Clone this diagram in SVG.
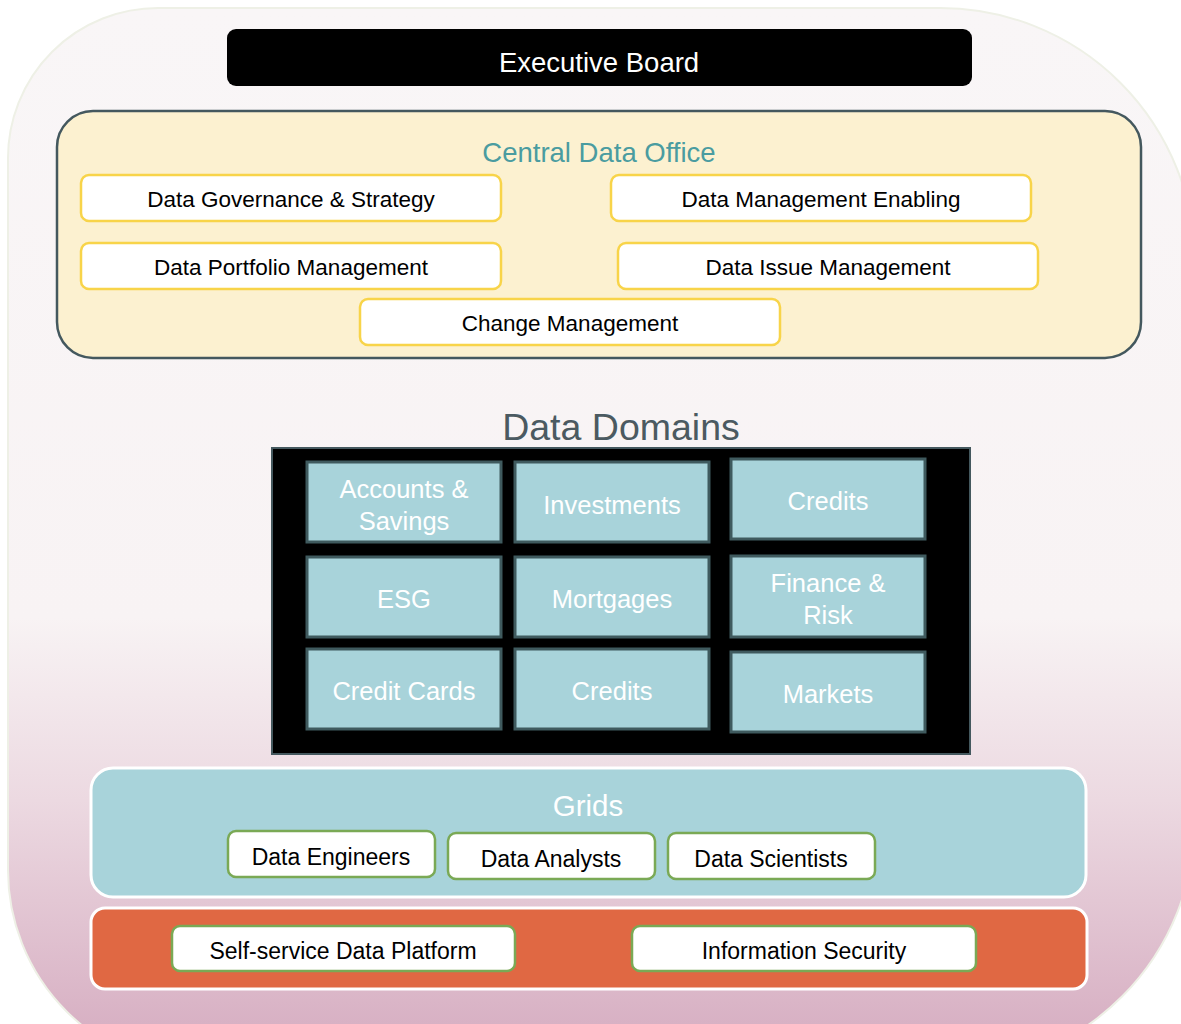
<svg xmlns="http://www.w3.org/2000/svg" width="1181" height="1024" viewBox="0 0 1181 1024">
  <defs>
    <linearGradient id="bgGrad" x1="0" y1="8" x2="0" y2="1024" gradientUnits="userSpaceOnUse">
      <stop offset="0" stop-color="#f9f6f7"/>
      <stop offset="0.6" stop-color="#f8f3f4"/>
      <stop offset="0.78" stop-color="#ecd9e1"/>
      <stop offset="1" stop-color="#d8b1c4"/>
    </linearGradient>
    <style>
      text { font-family: "Liberation Sans", Arial, sans-serif; text-anchor: middle; }
      .cdo-item rect { fill: #ffffff; stroke: #f8d449; stroke-width: 2.5; }
      .cdo-item text { font-size: 22.5px; fill: #000000; }
      .domain rect { fill: #a8d3da; stroke: #3f5a5e; stroke-width: 3; }
      .domain text { font-size: 25.5px; fill: #ffffff; }
      .role rect { fill: #ffffff; stroke: #7aa955; stroke-width: 2.5; }
      .role text { font-size: 23px; fill: #000000; }
    </style>
  </defs>

  <!-- page background -->
  <rect x="0" y="0" width="1181" height="1024" fill="#ffffff"/>
  <path d="M 158 8 L 940 8 A 255 255 0 0 1 1195 263 L 1195 820 A 250 250 0 0 1 945 1070 L 208 1070 A 200 200 0 0 1 8 870 L 8 158 A 150 150 0 0 1 158 8 Z"
        fill="url(#bgGrad)" stroke="#eef0e6" stroke-width="2"/>

  <!-- Executive Board -->
  <g id="executive-board">
    <rect x="227" y="29" width="745" height="57" rx="9" fill="#000000"/>
    <text x="599" y="72" font-size="27.5" fill="#ffffff">Executive Board</text>
  </g>

  <!-- Central Data Office -->
  <g id="central-data-office">
    <rect x="57" y="111" width="1084" height="247" rx="36" fill="#fcf1d0" stroke="#44585e" stroke-width="2.5"/>
    <text x="599" y="162" font-size="27.5" fill="#4a9ca0">Central Data Office</text>
  </g>
  <g id="data-governance" class="cdo-item">
    <rect x="81" y="175" width="420" height="46" rx="8"/>
    <text x="291" y="207">Data Governance &amp; Strategy</text>
  </g>
  <g id="data-management-enabling" class="cdo-item">
    <rect x="611" y="175" width="420" height="46" rx="8"/>
    <text x="821" y="207">Data Management Enabling</text>
  </g>
  <g id="data-portfolio" class="cdo-item">
    <rect x="81" y="243" width="420" height="46" rx="8"/>
    <text x="291" y="275">Data Portfolio Management</text>
  </g>
  <g id="data-issue" class="cdo-item">
    <rect x="618" y="243" width="420" height="46" rx="8"/>
    <text x="828" y="275">Data Issue Management</text>
  </g>
  <g id="change-management" class="cdo-item">
    <rect x="360" y="299" width="420" height="46" rx="8"/>
    <text x="570" y="331">Change Management</text>
  </g>

  <!-- Data Domains -->
  <g id="data-domains">
    <text x="621" y="440" font-size="37.5" fill="#4b5a61">Data Domains</text>
    <rect x="272" y="448" width="698" height="306" fill="#000000" stroke="#44585e" stroke-width="2"/>
  </g>
  <g id="accounts-savings" class="domain">
    <rect x="307" y="462" width="194" height="80"/>
    <text x="404" y="498">Accounts &amp;</text>
    <text x="404" y="530">Savings</text>
  </g>
  <g id="investments" class="domain">
    <rect x="515" y="462" width="194" height="80"/>
    <text x="612" y="514">Investments</text>
  </g>
  <g id="credits-1" class="domain">
    <rect x="731" y="459" width="194" height="80"/>
    <text x="828" y="510">Credits</text>
  </g>
  <g id="esg" class="domain">
    <rect x="307" y="557" width="194" height="80"/>
    <text x="404" y="608">ESG</text>
  </g>
  <g id="mortgages" class="domain">
    <rect x="515" y="557" width="194" height="80"/>
    <text x="612" y="608">Mortgages</text>
  </g>
  <g id="finance-risk" class="domain">
    <rect x="731" y="556" width="194" height="81"/>
    <text x="828" y="592">Finance &amp;</text>
    <text x="828" y="624">Risk</text>
  </g>
  <g id="credit-cards" class="domain">
    <rect x="307" y="649" width="194" height="80"/>
    <text x="404" y="700">Credit Cards</text>
  </g>
  <g id="credits-2" class="domain">
    <rect x="515" y="649" width="194" height="80"/>
    <text x="612" y="700">Credits</text>
  </g>
  <g id="markets" class="domain">
    <rect x="731" y="652" width="194" height="80"/>
    <text x="828" y="703">Markets</text>
  </g>

  <!-- Grids -->
  <g id="grids">
    <rect x="91" y="768" width="995" height="129" rx="22" fill="#a8d3da" stroke="#ffffff" stroke-width="3"/>
    <text x="588" y="816" font-size="29.5" fill="#ffffff">Grids</text>
  </g>
  <g id="data-engineers" class="role">
    <rect x="228" y="831" width="207" height="46" rx="8"/>
    <text x="331" y="865">Data Engineers</text>
  </g>
  <g id="data-analysts" class="role">
    <rect x="448" y="833" width="207" height="46" rx="8"/>
    <text x="551" y="867">Data Analysts</text>
  </g>
  <g id="data-scientists" class="role">
    <rect x="668" y="833" width="207" height="46" rx="8"/>
    <text x="771" y="867">Data Scientists</text>
  </g>

  <!-- Platform layer -->
  <g id="platform">
    <rect x="91" y="908" width="996" height="81" rx="14" fill="#e06843" stroke="#ffffff" stroke-width="3"/>
  </g>
  <g id="self-service-platform" class="role">
    <rect x="172" y="926" width="343" height="45" rx="8"/>
    <text x="343" y="959">Self-service Data Platform</text>
  </g>
  <g id="information-security" class="role">
    <rect x="632" y="926" width="344" height="45" rx="8"/>
    <text x="804" y="959">Information Security</text>
  </g>

  <!-- connectors (none drawn) -->
  <g id="connectors"/>
</svg>
